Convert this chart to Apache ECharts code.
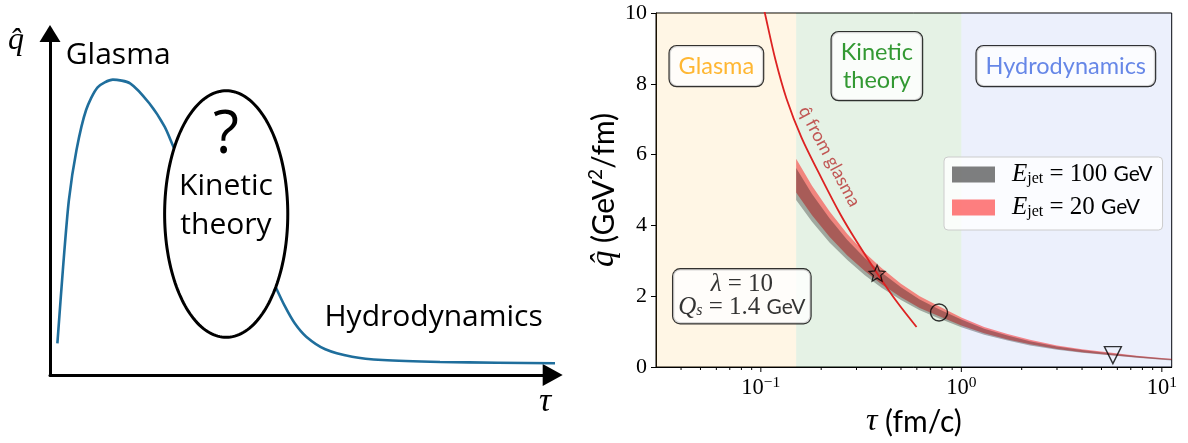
<!DOCTYPE html>
<html><head><meta charset="utf-8">
<script src="https://cdn.jsdelivr.net/npm/echarts@6/dist/echarts.min.js"></script>
<style>html,body{margin:0;padding:0;background:#fff}#c{width:1188px;height:443px}</style>
</head><body><div id="c"></div>
<script>
// ---------- Left schematic panel (arbitrary units 0..100) ----------
const schemX = [1.47, 2.61, 3.76, 5.27, 7.18, 9.47, 12.51, 15.93, 19.75, 22.8, 24.69, 26.86, 29.84, 33.82, 37.8, 41.38, 43.37, 44.86, 46.77, 48.68, 50.97, 54.76, 60.1, 66.18, 77.6, 89.02, 101.19];
const schemY = [9.28, 31.71, 51.24, 65.89, 77.6, 84.25, 86.49, 85.42, 79.56, 72.71, 66.38, 60.03, 52.71, 45.39, 39.53, 34.26, 30.75, 25.86, 20.0, 15.14, 11.22, 7.53, 5.36, 4.39, 3.81, 3.6, 3.43];
const ellipseCenter = [35.05, 47.14];
const ellipseRadii = [12.25, 36.1];

// ---------- Right panel ----------
const regionEdges = [0.03, 0.15, 1, 11.2];
const regionColors = ['rgba(255,165,0,0.1)', 'rgba(0,128,0,0.1)', 'rgba(65,105,225,0.1)'];
const bandTau = [0.15, 0.18, 0.22, 0.27, 0.33, 0.40, 0.50, 0.62, 0.77, 1.0, 1.3, 1.7, 2.2, 3.0, 4.0, 5.5, 7.5, 10, 11.2];
const e20Hi  = [5.88, 5.12, 4.40, 3.76, 3.23, 2.80, 2.35, 2.00, 1.72, 1.40, 1.13, 0.93, 0.77, 0.61, 0.50, 0.41, 0.32, 0.255, 0.233];
const e20Lo  = [4.93, 4.29, 3.68, 3.15, 2.71, 2.34, 1.97, 1.67, 1.44, 1.17, 0.95, 0.78, 0.64, 0.51, 0.42, 0.34, 0.27, 0.214, 0.195];
const e100Hi = [5.62, 4.89, 4.20, 3.59, 3.08, 2.67, 2.25, 1.91, 1.64, 1.34, 1.08, 0.89, 0.73, 0.58, 0.48, 0.39, 0.31, 0.244, 0.223];
const e100Lo = [4.72, 4.10, 3.52, 3.02, 2.59, 2.24, 1.89, 1.60, 1.38, 1.12, 0.91, 0.75, 0.61, 0.49, 0.40, 0.33, 0.26, 0.205, 0.187];
const glasmaTau = [0.095, 0.1047, 0.118, 0.1343, 0.1596, 0.2, 0.25, 0.3, 0.38, 0.48, 0.598];
const glasmaQ   = [11.05, 10.0, 8.7, 7.58, 6.48, 5.35, 4.3, 3.55, 2.65, 1.82, 1.13];
const starPt = [0.38, 2.65];
const circlePt = [0.774, 1.54];
const triPt = [5.7, 0.335];
const majorTicks = [0.1, 1, 10];
const minorTicks = [0.04, 0.05, 0.06, 0.07, 0.08, 0.09, 0.2, 0.3, 0.4, 0.5, 0.6, 0.7, 0.8, 0.9, 2, 3, 4, 5, 6, 7, 8, 9];
const yTicks = [0, 2, 4, 6, 8, 10];

const SERIF = "'Liberation Serif','DejaVu Serif',serif";
const CMSANS = "Lato,'DejaVu Sans',sans-serif";
const OPEN = "'Open Sans','Noto Sans',sans-serif";

const chart = echarts.init(document.getElementById('c'), null, {width: 1188, height: 443, devicePixelRatio: 1});

function bandSeries(name, lo, hi, color, legendColor) {
  return {
    type: 'custom', name: name, xAxisIndex: 1, yAxisIndex: 1, silent: true, clip: true,
    itemStyle: {color: legendColor},
    data: [[bandTau[0], hi[0]]],
    renderItem: function (params, api) {
      const pts = [];
      for (let i = 0; i < bandTau.length; i++) pts.push(api.coord([bandTau[i], hi[i]]));
      for (let i = bandTau.length - 1; i >= 0; i--) pts.push(api.coord([bandTau[i], lo[i]]));
      return {type: 'polygon', shape: {points: pts}, style: {fill: color, stroke: null}};
    }
  };
}

const boxLabel = {
  show: true, position: 'inside', backgroundColor: '#fff', borderColor: '#000', borderWidth: 1.2,
  borderRadius: 7, padding: [6, 9], fontFamily: CMSANS, fontSize: 23.5, lineHeight: 28, align: 'center'
};

const option = {
  animation: false,
  backgroundColor: '#fff',
  grid: [
    {left: 50, top: 33.5, width: 502.7, height: 341.5, show: false},
    {left: 656, top: 13, width: 515.7, height: 361, show: true, borderColor: '#000', borderWidth: 1, backgroundColor: 'transparent'}
  ],
  xAxis: [
    {gridIndex: 0, type: 'value', min: 0, max: 100,
     axisLine: {show: true, symbol: ['none', 'triangle'], symbolSize: [22, 20], lineStyle: {color: '#000', width: 3}},
     axisTick: {show: false}, axisLabel: {show: false}, splitLine: {show: false}},
    {gridIndex: 1, type: 'log', logBase: 10, min: regionEdges[0], max: regionEdges[3],
     axisLine: {show: true, onZero: false, lineStyle: {color: '#000', width: 1}},
     axisTick: {show: false}, splitLine: {show: false}, minorTick: {show: false},
     axisLabel: {
       show: true, showMinLabel: false, showMaxLabel: false, margin: 8, color: '#000',
       formatter: function (v) {
         const e = Math.round(Math.log10(v));
         return '{b|10}{s|' + (e < 0 ? '\u2212' + (-e) : String(e)) + '}';
       },
       rich: {
         b: {fontFamily: SERIF, fontSize: 22.5, lineHeight: 26, color: '#000'},
         s: {fontFamily: SERIF, fontSize: 15.5, lineHeight: 14, verticalAlign: 'top', color: '#000'}
       }
     },
     name: '{t|\u03c4}{u| (fm/c)}', nameLocation: 'middle', nameGap: 38,
     nameTextStyle: {rich: {
       t: {fontFamily: SERIF, fontStyle: 'italic', fontSize: 32, lineHeight: 34, color: '#000'},
       u: {fontFamily: CMSANS, fontSize: 30, lineHeight: 34, color: '#000'}
     }}}
  ],
  yAxis: [
    {gridIndex: 0, type: 'value', min: 0, max: 100,
     axisLine: {show: true, symbol: ['none', 'triangle'], symbolSize: [21, 17], lineStyle: {color: '#000', width: 3}},
     axisTick: {show: false}, axisLabel: {show: false}, splitLine: {show: false}},
    {gridIndex: 1, type: 'value', min: yTicks[0], max: yTicks[yTicks.length - 1], interval: 2,
     axisLine: {show: true, onZero: false, lineStyle: {color: '#000', width: 1}},
     axisTick: {show: true, length: 5, lineStyle: {color: '#000', width: 1}},
     axisLabel: {show: true, margin: 9, fontFamily: SERIF, fontSize: 22, color: '#000'},
     splitLine: {show: false},
     name: '{q|q\u0302}{t| (GeV}{s|2}{t|/fm)}', nameLocation: 'middle', nameGap: 25,
     nameTextStyle: {rich: {
       q: {fontFamily: SERIF, fontStyle: 'italic', fontSize: 33, lineHeight: 36, color: '#000'},
       t: {fontFamily: CMSANS, fontSize: 30, lineHeight: 36, color: '#000'},
       s: {fontFamily: CMSANS, fontSize: 19, lineHeight: 20, verticalAlign: 'top', color: '#000'}
     }}}
  ],
  legend: {
    show: true, orient: 'vertical', left: 944, top: 157, selectedMode: false,
    padding: [5, 10, 10, 8], itemGap: 8, itemWidth: 43, itemHeight: 16,
    backgroundColor: 'rgba(255,255,255,0.8)', borderColor: '#cccccc', borderWidth: 1, borderRadius: 4,
    data: [
      {name: 'E100', icon: 'rect', itemStyle: {color: 'rgba(0,0,0,0.5)'}},
      {name: 'E20', icon: 'rect', itemStyle: {color: 'rgba(255,0,0,0.5)'}}
    ],
    formatter: function (n) {
      return '{sp|}{e|E}{j|jet}{r| = ' + (n === 'E100' ? '100' : '20') + ' }{g|GeV}';
    },
    textStyle: {rich: {
      sp: {width: 12, lineHeight: 24},
      e: {fontFamily: SERIF, fontStyle: 'italic', fontSize: 25, lineHeight: 24, color: '#000'},
      j: {fontFamily: SERIF, fontSize: 16, lineHeight: 12, verticalAlign: 'bottom', color: '#000'},
      r: {fontFamily: SERIF, fontSize: 25, lineHeight: 24, color: '#000'},
      g: {fontFamily: CMSANS, fontSize: 21, lineHeight: 24, color: '#000'}
    }}
  },
  graphic: [
    {type: 'text', x: 65.8, y: 55.6, silent: true, style: {text: 'Glasma', fontFamily: OPEN, fontSize: 30, fill: '#000', align: 'left', textAlign: 'left', verticalAlign: 'middle', textVerticalAlign: 'middle'}},
    {type: 'text', x: 324.5, y: 317, silent: true, style: {text: 'Hydrodynamics', fontFamily: OPEN, fontSize: 30, fill: '#000', align: 'left', textAlign: 'left', verticalAlign: 'middle', textVerticalAlign: 'middle'}},
    {type: 'text', x: 226, y: 135.7, silent: true, z: 100, style: {text: '?', fontFamily: OPEN, fontSize: 60, fill: '#000', align: 'center', textAlign: 'center', verticalAlign: 'middle', textVerticalAlign: 'middle'}},
    {type: 'text', x: 226, y: 186.6, silent: true, z: 100, style: {text: 'Kinetic', fontFamily: OPEN, fontSize: 30, fill: '#000', align: 'center', textAlign: 'center', verticalAlign: 'middle', textVerticalAlign: 'middle'}},
    {type: 'text', x: 226, y: 225.5, silent: true, z: 100, style: {text: 'theory', fontFamily: OPEN, fontSize: 30, fill: '#000', align: 'center', textAlign: 'center', verticalAlign: 'middle', textVerticalAlign: 'middle'}},
    {type: 'text', x: 16, y: 41, silent: true, style: {text: 'q\u0302', fontFamily: SERIF, fontStyle: 'italic', fontSize: 32, fill: '#000', align: 'center', textAlign: 'center', verticalAlign: 'middle', textVerticalAlign: 'middle'}},
    {type: 'text', x: 545, y: 402, silent: true, style: {text: '\u03c4', fontFamily: SERIF, fontStyle: 'italic', fontSize: 34, fill: '#000', align: 'center', textAlign: 'center', verticalAlign: 'middle', textVerticalAlign: 'middle'}}
  ],
  series: [
    // left: schematic curve
    {type: 'line', xAxisIndex: 0, yAxisIndex: 0, silent: true, clip: false, smooth: 0.25, showSymbol: false,
     lineStyle: {color: '#1f6e9c', width: 2.6},
     data: schemX.map(function (x, i) { return [x, schemY[i]]; })},
    // left: ellipse
    {type: 'custom', xAxisIndex: 0, yAxisIndex: 0, silent: true, clip: false, z: 5,
     data: [[ellipseCenter[0], ellipseCenter[1], ellipseRadii[0], ellipseRadii[1]]],
     renderItem: function (params, api) {
       const c = api.coord([api.value(0), api.value(1)]);
       const s = api.size([api.value(2), api.value(3)]);
       const pts = [];
       for (let k = 0; k < 180; k++) {
         const a = k / 180 * Math.PI * 2;
         pts.push([c[0] + s[0] * Math.cos(a), c[1] + s[1] * Math.sin(a)]);
       }
       return {type: 'polygon', shape: {points: pts}, style: {fill: '#fff', stroke: '#000', lineWidth: 3}};
     }},
    // right: bands (red first, dark on top gives the brownish overlap)
    bandSeries('E20', e20Lo, e20Hi, 'rgba(255,0,0,0.45)', 'rgba(255,0,0,0.5)'),
    bandSeries('E100', e100Lo, e100Hi, 'rgba(0,0,0,0.3)', 'rgba(0,0,0,0.5)'),
    // right: glasma line + background regions
    {type: 'line', name: 'glasma', xAxisIndex: 1, yAxisIndex: 1, silent: true, smooth: 0.3, showSymbol: false,
     lineStyle: {color: '#dd2222', width: 1.8},
     data: glasmaTau.map(function (t, i) { return [t, glasmaQ[i]]; }),
     markArea: {silent: true, data: regionColors.map(function (col, i) {
       return [{xAxis: regionEdges[i], itemStyle: {color: col}}, {xAxis: regionEdges[i + 1]}];
     })}},
    // markers
    {type: 'scatter', xAxisIndex: 1, yAxisIndex: 1, silent: true, z: 6,
     symbol: 'path://M10,0 L12.9,6.9 20,7.6 14.6,12.3 16.2,19.3 10,15.6 3.8,19.3 5.4,12.3 0,7.6 7.1,6.9 Z',
     symbolSize: 16, itemStyle: {color: 'rgba(0,0,0,0)', borderColor: '#000', borderWidth: 1.3}, data: [starPt]},
    {type: 'scatter', xAxisIndex: 1, yAxisIndex: 1, silent: true, z: 6, symbol: 'circle', symbolSize: 17,
     itemStyle: {color: 'rgba(0,0,0,0)', borderColor: '#000', borderWidth: 1.4}, data: [circlePt]},
    {type: 'scatter', xAxisIndex: 1, yAxisIndex: 1, silent: true, z: 6, symbol: 'triangle', symbolRotate: 180, symbolSize: [17, 17],
     itemStyle: {color: 'rgba(0,0,0,0)', borderColor: '#000', borderWidth: 1.4}, data: [triPt]},
    // annotations
    {type: 'scatter', xAxisIndex: 1, yAxisIndex: 1, silent: true, z: 8, symbolSize: 0,
     data: [
       {value: [0.06, 8.5], label: Object.assign({}, boxLabel, {formatter: 'Glasma', color: '#ffa500'})},
       {value: [0.379, 8.5], label: Object.assign({}, boxLabel, {formatter: 'Kinetic\ntheory', color: '#008000'})},
       {value: [3.32, 8.5], label: Object.assign({}, boxLabel, {formatter: 'Hydrodynamics', color: '#4169e1'})},
       {value: [0.0804, 2.0], label: Object.assign({}, boxLabel, {
          padding: [4, 5], lineHeight: 23,
          formatter: '{i|\u03bb}{r| = 10}\n{i|Q}{sub|s}{r| = 1.4 }{g|GeV}',
          rich: {
            i: {fontFamily: SERIF, fontStyle: 'italic', fontSize: 25, lineHeight: 23, align: 'center', color: '#000'},
            sub: {fontFamily: SERIF, fontStyle: 'italic', fontSize: 16, lineHeight: 12, verticalAlign: 'bottom', align: 'center', color: '#000'},
            r: {fontFamily: SERIF, fontSize: 25, lineHeight: 23, align: 'center', color: '#000'},
            g: {fontFamily: CMSANS, fontSize: 21, lineHeight: 23, align: 'center', color: '#000'}
          }})},
       {value: [0.22, 5.95], label: {show: true, position: 'inside', formatter: 'q\u0302 from glasma', rotate: -62,
          fontFamily: CMSANS, fontSize: 18, color: '#b83030'}}
     ]},
    // x ticks (major + minor)
    {type: 'custom', xAxisIndex: 1, yAxisIndex: 1, silent: true, clip: false, z: 10,
     data: majorTicks.map(function (v) { return [v, 1]; }).concat(minorTicks.map(function (v) { return [v, 0]; })),
     renderItem: function (params, api) {
       const p = api.coord([api.value(0), 0]);
       const len = api.value(1) ? 5 : 3;
       return {type: 'line', shape: {x1: p[0], y1: p[1], x2: p[0], y2: p[1] + len}, style: {stroke: '#000', lineWidth: 1}};
     }}
  ]
};
chart.setOption(option);
</script>
</body></html>
